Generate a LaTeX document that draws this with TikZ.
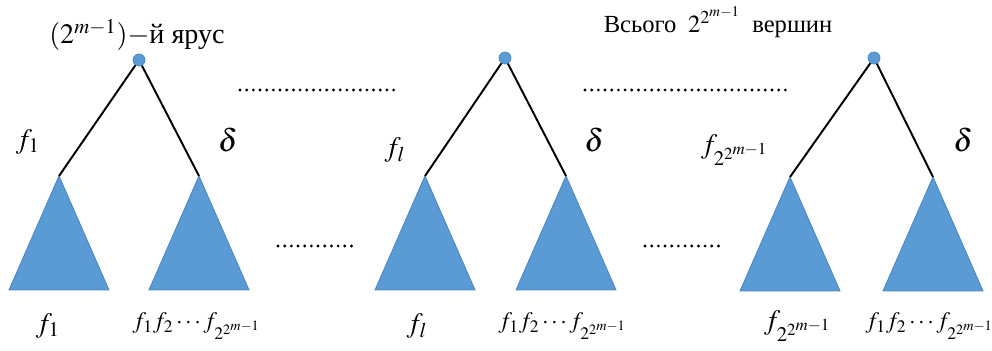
\documentclass[tikz,border=0pt]{standalone}
\usepackage{mathptmx}
\usepackage{fontspec}
\setmainfont{Liberation Serif}
\usepackage{xcolor}
\usepackage{tikz}
\usetikzlibrary{calc}

\definecolor{leafblue}{HTML}{5B9BD5}
\definecolor{leafedge}{HTML}{4A86C0}

\begin{document}
\begin{tikzpicture}[
  font=\fontsize{16}{18}\selectfont,
  root/.style={circle, fill=leafblue, draw=leafedge, inner sep=0pt, minimum size=0.24cm},
  edge/.style={line width=1.1pt, black},
  sub/.style={fill=leafblue, draw=leafedge, line width=0.5pt},
  dots/.style={line width=1.8pt, line cap=round, dash pattern=on 0pt off 3.8pt},
  lab/.style={font=\fontsize{16}{18}\selectfont},
  prod/.style={font=\fontsize{13.5}{15}\selectfont},
  dl/.style={font=\fontsize{18}{20}\selectfont}
]
\useasboundingbox (0,0) rectangle (19.84,7.02);

% roots and subtree tops
\node[root] (r1) at (2.78,5.82) {};
\node[root] (r2) at (10.10,5.86) {};
\node[root] (r3) at (17.48,5.86) {};
\coordinate (a1) at (1.18,3.50);
\coordinate (b1) at (3.98,3.50);
\coordinate (a2) at (8.50,3.50);
\coordinate (b2) at (11.32,3.50);
\coordinate (a3) at (15.80,3.48);
\coordinate (b3) at (18.66,3.48);

% subtrees
\foreach \t in {a1,b1,a2,b2,a3,b3}
  \draw[sub] (\t) -- ++(-1.0,-2.28) -- ++(2.0,0) -- cycle;

\draw[edge] (r1) -- (a1);
\draw[edge] (r1) -- (b1);
\draw[edge] (r2) -- (a2);
\draw[edge] (r2) -- (b2);
\draw[edge] (r3) -- (a3);
\draw[edge] (r3) -- (b3);

% edge labels
\node[lab] (e1) at (0.56,4.18) {$f_1$};
\node[dl] (d1) at (4.56,4.22) {$\delta$};
\node[lab] (e2) at (7.90,4.02) {$f_l$};
\node[dl] (d2) at (11.88,4.22) {$\delta$};
\node[lab] (e3) at (14.70,4.02) {$f_{2^{2^{m-1}}}$};
\node[dl] (d3) at (19.26,4.22) {$\delta$};

% leaf labels
\node[lab] (l1) at (0.96,0.50) {$f_1$};
\node[prod] (p1) at (3.94,0.50) {$f_1f_2\cdots f_{2^{2^{m-1}}}$};
\node[lab] (l2) at (8.34,0.50) {$f_l$};
\node[prod] (p2) at (11.26,0.50) {$f_1f_2\cdots f_{2^{2^{m-1}}}$};
\node[lab] (l3) at (15.96,0.50) {$f_{2^{2^{m-1}}}$};
\node[prod] (p3) at (18.60,0.50) {$f_1f_2\cdots f_{2^{2^{m-1}}}$};

% captions
\node[lab] (c1) at (2.74,6.32) {$(2^{m-1})-$й ярус};
\node[font=\fontsize{14}{16}\selectfont] (c2) at (14.36,6.58) {Всього $\;2^{2^{m-1}}\;$ вершин};

% ellipses
\draw[dots] (4.80,5.22) -- (7.96,5.22);
\draw[dots] (11.70,5.22) -- (15.80,5.22);
\draw[dots] (5.56,2.10) -- (7.16,2.10);
\draw[dots] (12.90,2.10) -- (14.46,2.10);
\end{tikzpicture}
\end{document}
